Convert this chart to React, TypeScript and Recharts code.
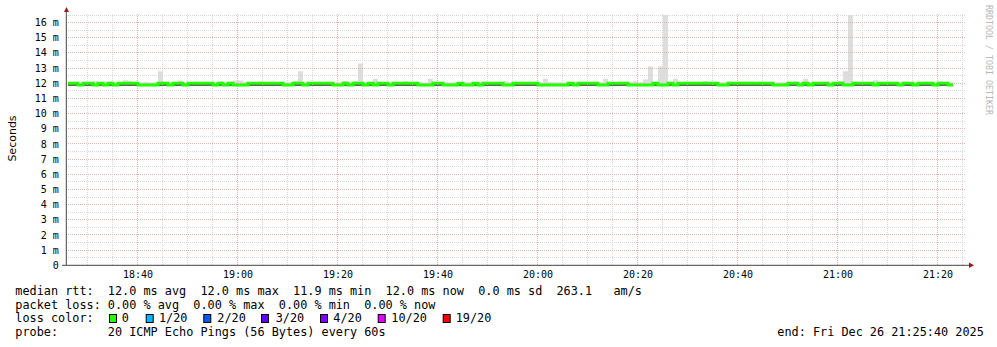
import React from 'react';
import { ComposedChart, Area, Line, XAxis, YAxis, ReferenceLine } from 'recharts';

// ---- data ----
const rangeStartLabel = '18:25:40';
const rangeEndLabel = '21:25:40';
const firstSampleLabel = '18:26:00';
const sampleStepMinutes = 1;

const xTickLabels = ['18:40', '19:00', '19:20', '19:40', '20:00', '20:20', '20:40', '21:00', '21:20'];
const xMinorGridLabels = [
  '18:30', '18:35', '18:45', '18:50', '18:55', '19:05', '19:10', '19:15', '19:25', '19:30', '19:35',
  '19:45', '19:50', '19:55', '20:05', '20:10', '20:15', '20:25', '20:30', '20:35', '20:45', '20:50',
  '20:55', '21:05', '21:10', '21:15', '21:25',
];
const yTicks = [0, 1, 2, 3, 4, 5, 6, 7, 8, 9, 10, 11, 12, 13, 14, 15, 16];
const yTickLabels = ['0', '1 m', '2 m', '3 m', '4 m', '5 m', '6 m', '7 m', '8 m', '9 m', '10 m', '11 m', '12 m', '13 m', '14 m', '15 m', '16 m'];
const yMinorGrid = [0.5, 1.5, 2.5, 3.5, 4.5, 5.5, 6.5, 7.5, 8.5, 9.5, 10.5, 11.5, 12.5, 13.5, 14.5, 15.5, 16.5];

// median rtt in ms, one per minute
const medianRtt = [
  12.0, 12.0, 11.88, 12.0, 12.0, 11.88, 12.0, 11.88, 12.0, 11.88,
  12.0, 12.0, 12.0, 12.0, 11.88, 11.88, 11.88, 11.88, 12.0, 12.0,
  11.88, 12.0, 12.0, 11.88, 12.0, 12.0, 12.0, 12.0, 12.0, 11.88,
  12.0, 11.88, 12.0, 11.88, 11.88, 11.88, 12.0, 12.0, 12.0, 12.0,
  12.0, 12.0, 12.0, 11.88, 11.88, 12.0, 12.0, 11.88, 12.0, 12.0,
  12.0, 12.0, 12.0, 11.88, 11.88, 12.0, 11.88, 12.0, 12.0, 11.88,
  12.0, 11.88, 12.0, 12.0, 11.88, 12.0, 12.0, 12.0, 12.0, 12.0,
  11.88, 11.88, 11.88, 12.0, 12.0, 11.88, 11.88, 11.88, 12.0, 11.88,
  11.88, 12.0, 11.88, 12.0, 12.0, 12.0, 12.0, 11.88, 11.88, 12.0,
  12.0, 12.0, 12.0, 12.0, 11.88, 11.88, 11.88, 11.88, 11.88, 11.88,
  12.0, 11.88, 12.0, 12.0, 12.0, 12.0, 11.88, 11.88, 12.0, 12.0,
  12.0, 12.0, 11.88, 11.88, 11.88, 11.88, 11.88, 12.0, 11.88, 11.88,
  12.0, 11.88, 12.0, 12.0, 12.0, 12.0, 12.0, 12.0, 12.0, 12.0,
  11.88, 11.88, 12.0, 12.0, 12.0, 12.0, 12.0, 12.0, 12.0, 12.0,
  12.0, 11.88, 11.88, 11.88, 12.0, 12.0, 11.88, 12.0, 11.88, 12.0,
  12.0, 12.0, 11.88, 12.0, 12.0, 11.88, 11.88, 12.0, 12.0, 12.0,
  12.0, 11.88, 12.0, 12.0, 12.0, 12.0, 11.88, 12.0, 12.0, 11.88,
  12.0, 12.0, 12.0, 11.88, 12.0, 12.0, 11.88, 11.88,
];

// highest ping of the minute (top of smoke), ms
const smokeTop = [
  12.08, 12.06, 12.05, 12.1, 12.08, 12.14, 12.06, 12.12, 12.06, 12.05,
  12.06, 12.2, 12.15, 12.06, 12.05, 12.08, 12.05, 12.06, 12.8, 12.1,
  12.05, 12.06, 12.18, 12.06, 12.08, 12.12, 12.06, 12.1, 12.06, 12.05,
  12.12, 12.06, 12.08, 12.18, 12.18, 12.08, 12.06, 12.06, 12.12, 12.06,
  12.06, 12.06, 12.06, 12.08, 12.06, 12.16, 12.8, 12.06, 12.06, 12.1,
  12.1, 12.06, 12.06, 12.06, 12.05, 12.15, 12.06, 12.15, 13.3, 12.06,
  12.1, 12.3, 12.08, 12.06, 12.06, 12.06, 12.06, 12.15, 12.06, 12.06,
  12.06, 12.05, 12.3, 12.12, 12.06, 12.08, 12.05, 12.06, 12.1, 12.08,
  12.06, 12.06, 12.08, 12.1, 12.06, 12.06, 12.06, 12.15, 12.06, 12.1,
  12.06, 12.08, 12.06, 12.06, 12.06, 12.3, 12.08, 12.06, 12.06, 12.05,
  12.1, 12.06, 12.06, 12.1, 12.06, 12.06, 12.06, 12.3, 12.06, 12.06,
  12.06, 12.06, 12.08, 12.15, 12.06, 12.25, 13.1, 12.1, 13.1, 16.5,
  12.08, 12.3, 12.06, 12.1, 12.06, 12.06, 12.06, 12.15, 12.06, 12.06,
  12.06, 12.06, 12.1, 12.06, 12.12, 12.12, 12.12, 12.06, 12.1, 12.06,
  12.06, 12.06, 12.06, 12.08, 12.06, 12.12, 12.06, 12.3, 12.08, 12.06,
  12.06, 12.1, 12.06, 12.06, 12.15, 12.8, 16.5, 12.12, 12.06, 12.06,
  12.06, 12.2, 12.06, 12.06, 12.1, 12.06, 12.06, 12.12, 12.06, 12.06,
  12.06, 12.12, 12.06, 12.06, 12.14, 12.06, 12.06, 12.06,
];

// lowest ping of the minute (bottom of smoke), ms
const smokeBottom = [
  11.83, 11.83, 11.82, 11.83, 11.83, 11.82, 11.83, 11.82, 11.83, 11.82,
  11.83, 11.83, 11.83, 11.83, 11.82, 11.82, 11.82, 11.82, 11.83, 11.83,
  11.82, 11.83, 11.83, 11.82, 11.83, 11.83, 11.83, 11.83, 11.83, 11.82,
  11.83, 11.82, 11.83, 11.82, 11.82, 11.82, 11.83, 11.83, 11.83, 11.83,
  11.83, 11.83, 11.83, 11.82, 11.82, 11.83, 11.83, 11.82, 11.83, 11.83,
  11.83, 11.83, 11.83, 11.82, 11.82, 11.83, 11.82, 11.83, 11.83, 11.82,
  11.83, 11.82, 11.83, 11.83, 11.82, 11.83, 11.83, 11.83, 11.83, 11.83,
  11.82, 11.82, 11.82, 11.83, 11.83, 11.82, 11.82, 11.82, 11.83, 11.82,
  11.82, 11.83, 11.82, 11.83, 11.83, 11.83, 11.83, 11.82, 11.82, 11.83,
  11.83, 11.83, 11.83, 11.83, 11.82, 11.82, 11.82, 11.82, 11.82, 11.82,
  11.83, 11.82, 11.83, 11.83, 11.83, 11.83, 11.82, 11.82, 11.83, 11.83,
  11.83, 11.83, 11.82, 11.82, 11.82, 11.82, 11.82, 11.83, 11.82, 11.82,
  11.83, 11.82, 11.83, 11.83, 11.83, 11.83, 11.83, 11.83, 11.83, 11.83,
  11.82, 11.82, 11.83, 11.83, 11.83, 11.83, 11.83, 11.83, 11.83, 11.83,
  11.83, 11.82, 11.82, 11.82, 11.83, 11.83, 11.82, 11.83, 11.82, 11.83,
  11.83, 11.83, 11.82, 11.83, 11.83, 11.82, 11.82, 11.83, 11.83, 11.83,
  11.83, 11.82, 11.83, 11.83, 11.83, 11.83, 11.82, 11.83, 11.83, 11.82,
  11.83, 11.83, 11.83, 11.82, 11.83, 11.83, 11.82, 11.82,
];

const lossColors = ['#26ff00', '#00b8ff', '#0059ff', '#5e00ff', '#7e00ff', '#dd00ff', '#ff0000'];
const lossLabels = ['0', '1/20', '2/20', '3/20', '4/20', '10/20', '19/20'];

const rttLine = 'median rtt:  12.0 ms avg  12.0 ms max  11.9 ms min  12.0 ms now  0.0 ms sd  263.1   am/s';
const lossLine = 'packet loss: 0.00 % avg  0.00 % max  0.00 % min  0.00 % now';
const lossColorTitle = 'loss color:';
const probeLine = 'probe:       20 ICMP Echo Pings (56 Bytes) every 60s';
const endText = 'end: Fri Dec 26 21:25:40 2025';

// ---- helpers ----
const toMin = (s: string) => {
  const [h, m, sec] = s.split(':').map(Number);
  return h * 60 + m + (sec || 0) / 60;
};
const rangeStart = toMin(rangeStartLabel);
const rangeEnd = toMin(rangeEndLabel);
const firstSample = toMin(firstSampleLabel);
const xTickValues = xTickLabels.map(toMin);
const xMinorValues = xMinorGridLabels.map(toMin);

const rows = medianRtt.map((m, i) => ({
  t: firstSample + i * sampleStepMinutes,
  median: m,
  smoke: [smokeBottom[i], smokeTop[i]],
  core: [smokeBottom[i], m],
}));

const MONO = '"DejaVu Sans Mono", monospace';
const SANS = '"DejaVu Sans", sans-serif';

// layout (pixels)
const W = 997;
const H = 347;
const PLOT_LEFT = 66.3;
const PLOT_RIGHT = 966.3;
const PLOT_TOP = 13.5;
const PLOT_BOTTOM = 265.3;
const LEGEND_FONT = 11.83;

const squareX = [109, 145.7, 203.3, 261, 320, 377.7, 442.7];
const squareLabelX = [121.7, 159, 217.3, 275.7, 333.3, 391.3, 455.7];

const MINOR_GRID = '#d8d8d8';
const MAJOR_GRID = '#e4b2b2';

export default function App() {
  return (
    <div style={{ position: 'absolute', left: 0, top: 0, width: W, height: H, background: '#ffffff' }}>
      <ComposedChart
        width={W}
        height={H}
        data={rows}
        margin={{ top: PLOT_TOP, right: W - PLOT_RIGHT, bottom: H - PLOT_BOTTOM - 30, left: 0 }}
      >
        <XAxis
          type="number"
          dataKey="t"
          domain={[rangeStart, rangeEnd]}
          allowDataOverflow
          ticks={xTickValues}
          interval={0}
          tickFormatter={(v: number) => xTickLabels[xTickValues.findIndex((x) => Math.abs(x - v) < 1e-6)] ?? ''}
          tick={{ fontFamily: MONO, fontSize: 10, fill: '#000' }}
          tickLine={false}
          tickSize={4}
          tickMargin={2}
          height={30}
          axisLine={{ stroke: '#444', strokeWidth: 1 }}
        />
        <YAxis
          type="number"
          domain={[0, 16.6]}
          allowDataOverflow
          ticks={yTicks}
          interval={0}
          width={PLOT_LEFT}
          tickFormatter={(v: number) => yTickLabels[yTicks.indexOf(v)] ?? ''}
          tick={{ fontFamily: MONO, fontSize: 10, fill: '#000' }}
          tickLine={false}
          tickSize={6}
          tickMargin={1.5}
          axisLine={{ stroke: '#444', strokeWidth: 1 }}
        />
        {yMinorGrid.map((v) => (
          <ReferenceLine key={'hm' + v} y={v} stroke={MINOR_GRID} strokeDasharray="1 1" shapeRendering="crispEdges" />
        ))}
        {xMinorValues.map((v) => (
          <ReferenceLine key={'vm' + v} x={v} stroke={MINOR_GRID} strokeDasharray="1 1" shapeRendering="crispEdges" />
        ))}
        {yTicks.slice(1).map((v) => (
          <ReferenceLine key={'hM' + v} y={v} stroke={MAJOR_GRID} strokeDasharray="1 1" shapeRendering="crispEdges" />
        ))}
        {xTickValues.map((v) => (
          <ReferenceLine key={'vM' + v} x={v} stroke={MAJOR_GRID} strokeDasharray="1 1" shapeRendering="crispEdges" />
        ))}
        <Area
          type="stepAfter"
          dataKey="smoke"
          fill="#dddddd"
          fillOpacity={1}
          stroke="none"
          isAnimationActive={false}
          dot={false}
          activeDot={false}
        />
        <Area
          type="stepAfter"
          dataKey="core"
          fill="#3c3c3c"
          fillOpacity={1}
          stroke="none"
          isAnimationActive={false}
          dot={false}
          activeDot={false}
        />
        <Line
          type="stepAfter"
          dataKey="median"
          stroke="#22ff00"
          strokeWidth={3}
          dot={false}
          activeDot={false}
          isAnimationActive={false}
        />
      </ComposedChart>
      <svg
        width={W}
        height={H}
        style={{ position: 'absolute', left: 0, top: 0, pointerEvents: 'none' }}
      >
        {/* axis extensions and arrows */}
        <line x1={62} y1={PLOT_BOTTOM} x2={PLOT_LEFT} y2={PLOT_BOTTOM} stroke="#444" strokeWidth={1} />
        <line x1={PLOT_RIGHT} y1={PLOT_BOTTOM} x2={969} y2={PLOT_BOTTOM} stroke="#444" strokeWidth={1} />
        <line x1={PLOT_LEFT} y1={PLOT_TOP} x2={PLOT_LEFT} y2={10} stroke="#444" strokeWidth={1} />
        <polygon points="64,12 69,12 66.5,7" fill="#9b1c1c" />
        <polygon points="969,262.5 969,268 974,265.3" fill="#9b1c1c" />
        <text
          x={15.5}
          y={138.5}
          transform="rotate(-90 15.5 138.5)"
          textAnchor="middle"
          fontFamily={SANS}
          fontSize={11}
          fill="#000"
        >
          Seconds
        </text>
        <text
          x={985.5}
          y={5}
          transform="rotate(90 985.5 5)"
          fontFamily={MONO}
          fontSize={9}
          fill="#b8b8b8"
          textLength={110}
          lengthAdjust="spacingAndGlyphs"
        >
          RRDTOOL / TOBI OETIKER
        </text>
        <g fontFamily={MONO} fontSize={LEGEND_FONT} fill="#000" style={{ whiteSpace: 'pre' }}>
          <text x={15.3} y={295} xmlSpace="preserve">{rttLine}</text>
          <text x={15.3} y={308.7} xmlSpace="preserve">{lossLine}</text>
          <text x={15.3} y={322.3}>{lossColorTitle}</text>
          {lossLabels.map((s, i) => (
            <g key={'c' + i}>
              <rect x={squareX[i] + 0.5} y={314.5} width={7} height={8} fill={lossColors[i]} stroke="#000" strokeWidth={1} />
              <text x={squareLabelX[i]} y={322.3}>{s}</text>
            </g>
          ))}
          <text x={15.3} y={336} xmlSpace="preserve">{probeLine}</text>
          <text x={777.3} y={336}>{endText}</text>
        </g>
      </svg>
    </div>
  );
}
